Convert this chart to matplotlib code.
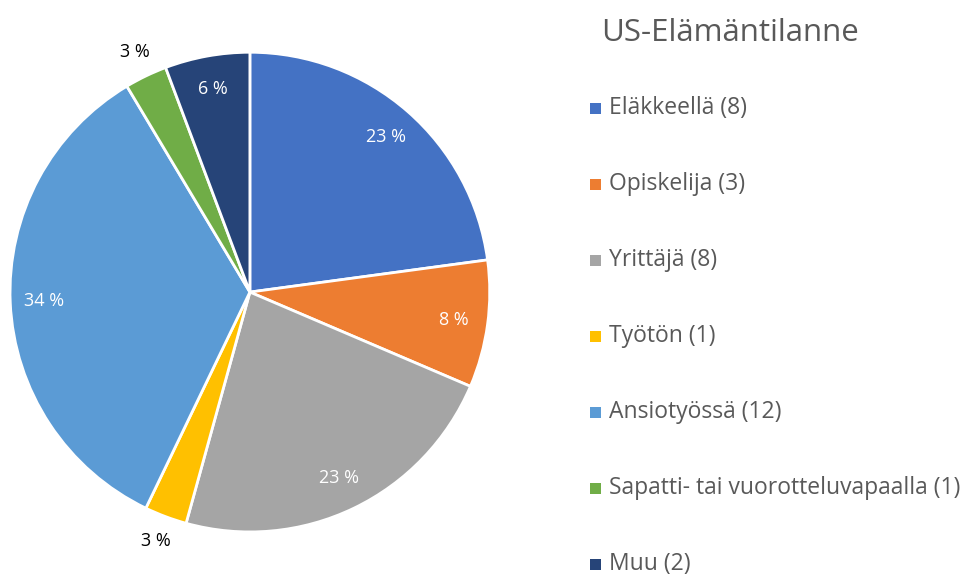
import matplotlib.pyplot as plt
import numpy as np
from matplotlib.patches import Rectangle

plt.rcParams['font.family'] = ['Open Sans', 'DejaVu Sans']

# Data
categories = ["Eläkkeellä", "Opiskelija", "Yrittäjä", "Työtön", "Ansiotyössä",
              "Sapatti- tai vuorotteluvapaalla", "Muu"]
counts = [8, 3, 8, 1, 12, 1, 2]
pct_labels = ["23 %", "8 %", "23 %", "3 %", "34 %", "3 %", "6 %"]
colors = ["#4472C4", "#ED7D31", "#A5A5A5", "#FFC000", "#5B9BD5", "#70AD47", "#264478"]
outside = [False, False, False, True, False, True, False]

fig = plt.figure(figsize=(9.75, 5.76), dpi=100)
ax = fig.add_axes([0.0103, 0.0764, 0.492, 0.833])

wedges, _ = ax.pie(counts, colors=colors, startangle=90, counterclock=False,
                   wedgeprops=dict(edgecolor="white", linewidth=2))
ax.set_aspect("equal")
ax.set_xlim(-1, 1)
ax.set_ylim(-1, 1)

# Percentage labels
for w, lab, out in zip(wedges, pct_labels, outside):
    ang = np.deg2rad((w.theta1 + w.theta2) / 2)
    r = 1.11 if out else 0.86
    ax.text(r * np.cos(ang), r * np.sin(ang), lab, ha="center", va="center",
            fontsize=13, color="black" if out else "white", clip_on=False)

# Legend
fig.text(730 / 975, 1 - 33 / 576, "US-Elämäntilanne", ha="center", va="center",
         fontsize=22.5, color="#595959")
y0 = 108
for i, (cat, n, c) in enumerate(zip(categories, counts, colors)):
    y = 1 - (y0 + 76 * i) / 576
    fig.patches.append(Rectangle((590 / 975, y - 6 / 576), 11 / 975, 11 / 576,
                                 transform=fig.transFigure, facecolor=c,
                                 edgecolor="none"))
    fig.text(609 / 975, y, f"{cat} ({n})", ha="left", va="center",
             fontsize=16.5, color="#595959")

plt.savefig("out.png", dpi=100)
